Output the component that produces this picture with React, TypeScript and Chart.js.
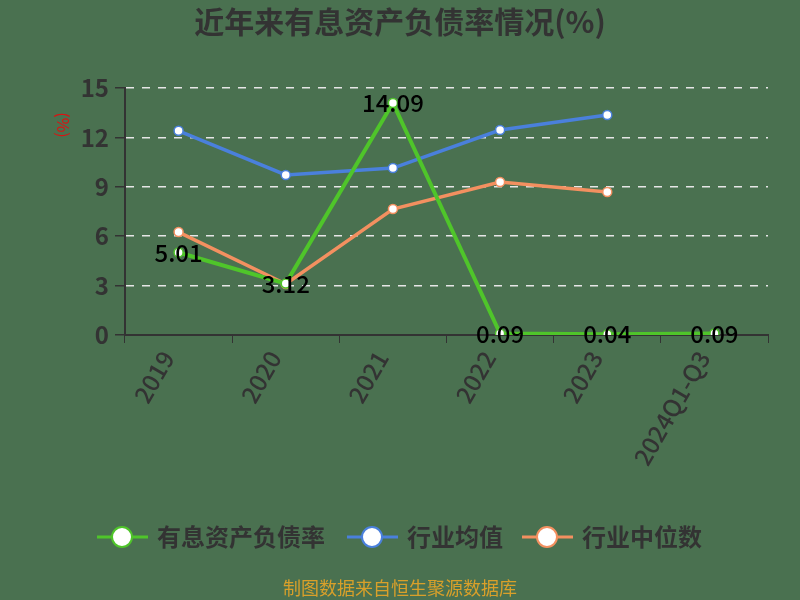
import React, { useEffect, useRef } from "react";
import { Chart, registerables } from "chart.js";

Chart.register(...registerables);

const categories = ["2019", "2020", "2021", "2022", "2023", "2024Q1-Q3"];
const debtRatio = [5.01, 3.12, 14.09, 0.09, 0.04, 0.09];
const industryAvg = [12.4, 9.72, 10.14, 12.45, 13.36, null];
const industryMedian = [6.25, 3.1, 7.65, 9.29, 8.68, null];
const yTicks = [0, 3, 6, 9, 12, 15];

const seriesNames = ["有息资产负债率", "行业均值", "行业中位数"];
const colors = ["#4fc52a", "#4a80dc", "#f39060"];

const FONT = "'Noto Sans CJK SC', 'Noto Sans', sans-serif";

export default function App() {
  const ref = useRef<HTMLCanvasElement | null>(null);

  useEffect(() => {
    document.body.style.margin = "0";
    const canvas = ref.current;
    if (!canvas) return;

    const decor = {
      id: "decor",
      beforeDraw(chart: any) {
        const c = chart.ctx;
        c.save();
        c.fillStyle = "#4a7150";
        c.fillRect(0, 0, chart.width, chart.height);
        c.restore();
      },
      afterDraw(chart: any) {
        const c = chart.ctx;
        c.save();
        // title
        c.fillStyle = "#333333";
        c.font = `bold 30px ${FONT}`;
        c.textAlign = "center";
        c.textBaseline = "middle";
        c.fillText("近年来有息资产负债率情况(%)", 400, 22);
        // y unit
        c.save();
        c.translate(63, 125);
        c.rotate(Math.PI / 2);
        c.fillStyle = "#dd1111";
        c.font = `16px ${FONT}`;
        c.fillText("(%)", 0, 0);
        c.restore();
        // data labels
        const meta = chart.getDatasetMeta(0);
        c.fillStyle = "#000000";
        c.font = `500 24px ${FONT}`;
        c.textAlign = "center";
        c.textBaseline = "middle";
        meta.data.forEach((pt: any, i: number) => {
          c.fillText(debtRatio[i].toFixed(2), pt.x, pt.y);
        });
        // legend
        const items = [
          { x: 97, text: seriesNames[0], color: colors[0] },
          { x: 347, text: seriesNames[1], color: colors[1] },
          { x: 522, text: seriesNames[2], color: colors[2] },
        ];
        const ly = 537;
        items.forEach((it) => {
          c.strokeStyle = it.color;
          c.lineWidth = 3;
          c.beginPath();
          c.moveTo(it.x, ly);
          c.lineTo(it.x + 51, ly);
          c.stroke();
          c.beginPath();
          c.arc(it.x + 25, ly, 10, 0, Math.PI * 2);
          c.fillStyle = "#ffffff";
          c.fill();
          c.lineWidth = 2;
          c.stroke();
          c.fillStyle = "#333333";
          c.font = `bold 24px ${FONT}`;
          c.textAlign = "left";
          c.textBaseline = "middle";
          c.fillText(it.text, it.x + 60, ly);
        });
        // footer
        c.fillStyle = "#d9a02a";
        c.font = `18px ${FONT}`;
        c.textAlign = "center";
        c.fillText("制图数据来自恒生聚源数据库", 400, 588);
        c.restore();
      },
    };

    const mkDs = (label: string, data: any[], color: string, width: number) => ({
      label,
      data,
      borderColor: color,
      backgroundColor: "#ffffff",
      borderWidth: width,
      pointRadius: 4.5,
      pointBorderWidth: 1.5,
      pointBorderColor: color,
      pointBackgroundColor: "#ffffff",
      tension: 0,
      spanGaps: false,
    });

    const chart = new Chart(canvas, {
      type: "line",
      data: {
        labels: categories,
        datasets: [
          mkDs(seriesNames[0], debtRatio, colors[0], 4),
          mkDs(seriesNames[1], industryAvg, colors[1], 3.5),
          mkDs(seriesNames[2], industryMedian, colors[2], 3.5),
        ],
      },
      options: {
        animation: false,
        responsive: false,
        devicePixelRatio: 1,
        layout: { padding: { left: 0, right: 32, top: 88, bottom: 0 } },
        plugins: {
          legend: { display: false },
          title: { display: false },
          tooltip: { enabled: false },
        },
        scales: {
          x: {
            type: "category",
            offset: true,
            afterFit: (s: any) => {
              s.height = 265;
            },
            grid: {
              display: true,
              drawOnChartArea: false,
              drawTicks: true,
              tickLength: 8,
              tickColor: "#333333",
              offset: true,
            },
            border: { display: true, color: "#333333", width: 2 },
            ticks: {
              color: "#333333",
              font: { size: 24, family: FONT, weight: "500" },
              maxRotation: 60,
              minRotation: 60,
              padding: 3,
              labelOffset: -11,
            },
          },
          y: {
            min: 0,
            max: 15,
            afterFit: (s: any) => {
              s.width = 125;
            },
            afterBuildTicks: (s: any) => {
              s.ticks = yTicks.map((v) => ({ value: v }));
            },
            grid: {
              color: (ctx: any) => (ctx.tick && ctx.tick.value === 0 ? "rgba(0,0,0,0)" : "#e6e6e6"),
              lineWidth: 1.5,
              drawTicks: true,
              tickLength: 10,
              tickColor: "#333333",
              tickBorderDash: [],
            },
            border: { display: true, color: "#333333", width: 2, dash: [8, 8] },
            ticks: {
              color: "#333333",
              font: { size: 24, family: FONT, weight: "bold" },
              padding: 6,
            },
          },
        },
      },
      plugins: [decor],
    } as any);

    return () => chart.destroy();
  }, []);

  return (
    <div style={{ width: 800, height: 600 }}>
      <canvas ref={ref} width={800} height={600} style={{ display: "block" }} />
    </div>
  );
}
